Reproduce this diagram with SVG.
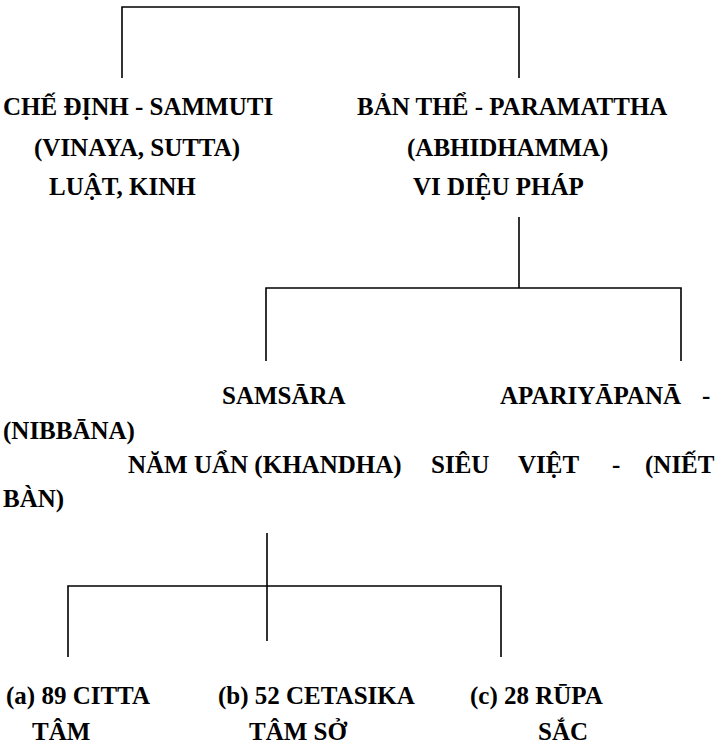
<svg xmlns="http://www.w3.org/2000/svg" width="724" height="746" viewBox="0 0 724 746">
  <style>
    .t { font-family: 'Liberation Serif', 'Times New Roman', Times, serif; font-weight: 700; font-size: 25px; fill: #000; }
    .c { fill: none; stroke: #000; stroke-width: 1.6; }
  </style>
  <rect width="724" height="746" fill="#fff"/>
  <g id="connectors">
    <path class="c" d="M122,78 V7 H519 V78"/>
    <path class="c" d="M519,217 V288"/>
    <path class="c" d="M266,361 V288 H681 V361"/>
    <path class="c" d="M267,533 V641"/>
    <path class="c" d="M68,657 V586 H501 V657"/>
  </g>
  <g id="sammuti">
    <text class="t" x="3" y="115">CHẾ ĐỊNH - SAMMUTI</text>
    <text class="t" x="34" y="156">(VINAYA, SUTTA)</text>
    <text class="t" x="49" y="195">LUẬT, KINH</text>
  </g>
  <g id="paramattha">
    <text class="t" x="357" y="115">BẢN THỂ - PARAMATTHA</text>
    <text class="t" x="407" y="156">(ABHIDHAMMA)</text>
    <text class="t" x="413" y="195">VI DIỆU PHÁP</text>
  </g>
  <g id="samsara">
    <text class="t" x="222" y="404">SAMSĀRA</text>
    <text class="t" x="128" y="473">NĂM UẨN (KHANDHA)</text>
  </g>
  <g id="apariyapana">
    <text class="t" x="500" y="404">APARIYĀPANĀ</text>
    <text class="t" x="702" y="404">-</text>
    <text class="t" x="3" y="439">(NIBBĀNA)</text>
    <text class="t" x="431" y="473">SIÊU</text>
    <text class="t" x="518" y="473">VIỆT</text>
    <text class="t" x="612" y="473">-</text>
    <text class="t" x="645" y="473">(NIẾT</text>
    <text class="t" x="3" y="507">BÀN)</text>
  </g>
  <g id="citta">
    <text class="t" x="6" y="704">(a) 89 CITTA</text>
    <text class="t" x="32" y="740">TÂM</text>
  </g>
  <g id="cetasika">
    <text class="t" x="218" y="704">(b) 52 CETASIKA</text>
    <text class="t" x="249" y="740">TÂM SỞ</text>
  </g>
  <g id="rupa">
    <text class="t" x="470" y="704">(c) 28 RŪPA</text>
    <text class="t" x="538" y="740">SẮC</text>
  </g>
</svg>
